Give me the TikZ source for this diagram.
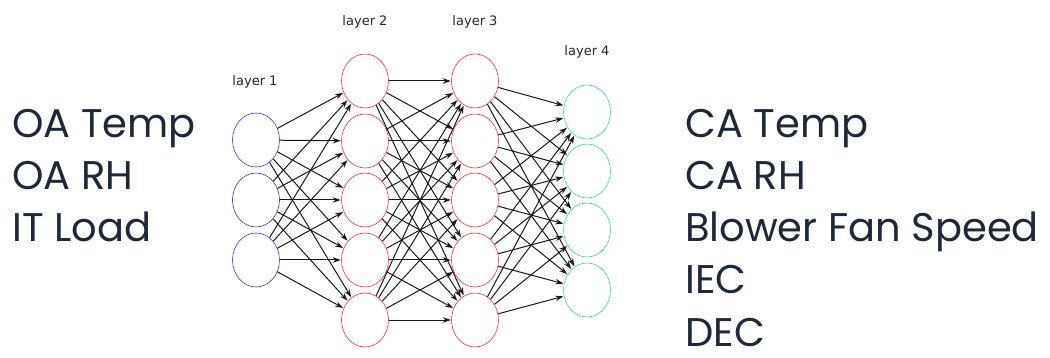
\documentclass[tikz,border=0pt]{standalone}
\usepackage{fontspec}
\setmainfont{Poppins}
\newfontfamily\smallfont{DejaVu Sans}
\usetikzlibrary{shapes.geometric,arrows.meta}
\definecolor{inblue}{HTML}{3C3CA8}
\definecolor{hidred}{HTML}{E8383C}
\definecolor{outgreen}{HTML}{3FD49A}
\definecolor{textnavy}{HTML}{1E2838}

\begin{document}
\begin{tikzpicture}[x=1pt,y=-1pt]
	\useasboundingbox (0,0) rectangle (1050,358);
	\tikzset{
		neuron/.style={ellipse,draw,line width=0.6pt,minimum width=47pt,minimum height=54pt,inner sep=0pt},
		layername/.style={font=\smallfont\fontsize{13}{15}\selectfont,text=black!85},
		varname/.style={font=\fontsize{40}{46}\selectfont,text=textnavy,anchor=base west,inner sep=0pt},
		link/.style={-{Stealth[length=8pt,width=5.5pt]},line width=1pt,black!90,shorten >=0.5pt}
	}
	% layer 1
	\begin{scope}[every node/.style={neuron,inblue}]
	\node (A1) at (256,140) {};
	\node (A2) at (256,200) {};
	\node (A3) at (256,260) {};
	\end{scope}
	% layer 2 and 3
	\begin{scope}[every node/.style={neuron,hidred}]
	\node (B1) at (365,81) {};
	\node (B2) at (365,141) {};
	\node (B3) at (365,200) {};
	\node (B4) at (365,260) {};
	\node (B5) at (365,320) {};
	\node (C1) at (475,81) {};
	\node (C2) at (475,141) {};
	\node (C3) at (475,200) {};
	\node (C4) at (475,260) {};
	\node (C5) at (475,320) {};
	\end{scope}
	% layer 4
	\begin{scope}[every node/.style={neuron,outgreen}]
	\node (D1) at (587,112) {};
	\node (D2) at (587,171) {};
	\node (D3) at (587,230) {};
	\node (D4) at (587,290) {};
	\end{scope}
	
	\node[layername] (L1) at (255,82) {layer 1};
	\node[layername] (L2) at (365,22) {layer 2};
	\node[layername] (L3) at (475,22) {layer 3};
	\node[layername] (L4) at (587,52) {layer 4};
	
	\foreach \i in {1,...,3}
		\foreach \j in {1,...,5}
			\draw [link] (A\i) -- (B\j);
	\foreach \i in {1,...,5}
		\foreach \j in {1,...,5}
			\draw [link] (B\i) -- (C\j);
	\foreach \i in {1,...,5}
		\foreach \j in {1,...,4}
			\draw [link] (C\i) -- (D\j);
	
	\node[varname] (in1) at (12,138) {OA Temp};
	\node[varname] (in2) at (12,190) {OA RH};
	\node[varname] (in3) at (12,242) {IT Load};
	\node[varname] (out1) at (685,138) {CA Temp};
	\node[varname] (out2) at (685,190) {CA RH};
	\node[varname] (out3) at (685,242) {Blower Fan Speed};
	\node[varname] (out4) at (685,294) {IEC};
	\node[varname] (out5) at (685,346) {DEC};
\end{tikzpicture}
\end{document}
